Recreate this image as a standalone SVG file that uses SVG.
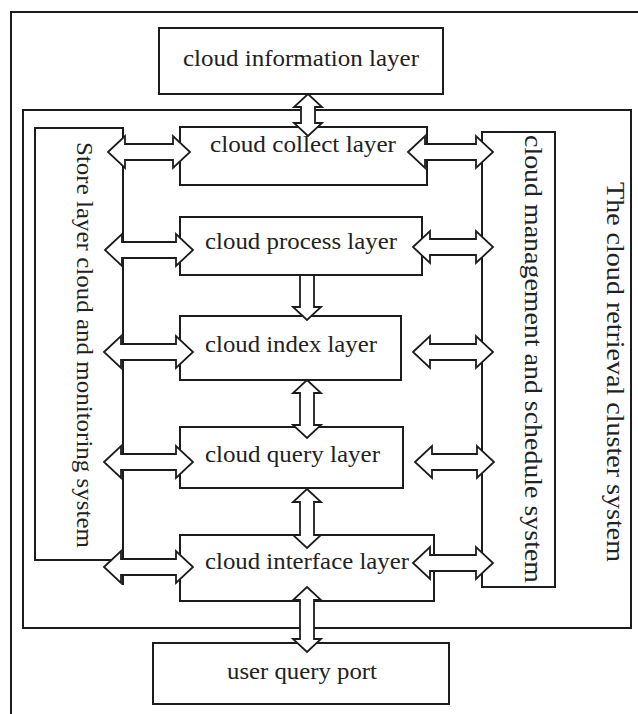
<svg xmlns="http://www.w3.org/2000/svg" width="638" height="714" viewBox="0 0 638 714">
<style>
.box{fill:#fff;stroke:#1c1c1c;stroke-width:2}
.ln{fill:none;stroke:#1c1c1c;stroke-width:2}
.arr{fill:#fff;stroke:#1c1c1c;stroke-width:1.8;stroke-linejoin:miter}
.t{font-family:"Liberation Serif","Times New Roman",serif;font-size:23px;fill:#222}
.v{font-family:"Liberation Serif","Times New Roman",serif;fill:#222}
</style>
<rect width="638" height="714" fill="#fff"/>
<g id="frame"><path class="ln" d="M11 714 V12 H638"/></g>
<g id="cluster">
<rect class="box" x="23" y="110" width="608" height="518"/>
<text class="v" font-size="26" transform="translate(607,182) rotate(90)" textLength="380" lengthAdjust="spacingAndGlyphs">The cloud retrieval cluster system</text>
</g>
<g id="info"><rect class="box" x="159" y="28" width="284" height="66"/>
<text class="t" x="183" y="66" textLength="236" lengthAdjust="spacingAndGlyphs">cloud information layer</text></g>
<g id="store"><rect class="box" x="35" y="128" width="88" height="432"/>
<text class="v" font-size="24" transform="translate(77,142) rotate(90)" textLength="406" lengthAdjust="spacingAndGlyphs">Store layer cloud and monitoring system</text></g>
<g id="mgmt"><rect class="box" x="482" y="132" width="73" height="455"/>
<text class="v" font-size="26" transform="translate(525,135) rotate(90)" textLength="448" lengthAdjust="spacingAndGlyphs">cloud management and schedule system</text></g>
<g id="collect"><rect class="box" x="180" y="127" width="247" height="58"/>
<text class="t" x="210" y="152" textLength="186" lengthAdjust="spacingAndGlyphs">cloud collect layer</text></g>
<g id="process"><rect class="box" x="180" y="217" width="242" height="58"/>
<text class="t" x="205" y="249" textLength="192" lengthAdjust="spacingAndGlyphs">cloud process layer</text></g>
<g id="index"><rect class="box" x="180" y="316" width="221" height="64"/>
<text class="t" x="205" y="352" textLength="172" lengthAdjust="spacingAndGlyphs">cloud index layer</text></g>
<g id="query"><rect class="box" x="180" y="427" width="223" height="61"/>
<text class="t" x="205" y="462" textLength="175" lengthAdjust="spacingAndGlyphs">cloud query layer</text></g>
<g id="interface"><rect class="box" x="180" y="535" width="254" height="66"/>
<text class="t" x="205" y="569" textLength="204" lengthAdjust="spacingAndGlyphs">cloud interface layer</text></g>
<g id="user"><rect class="box" x="153" y="643" width="296" height="61"/>
<text class="t" x="227" y="679" textLength="150" lengthAdjust="spacingAndGlyphs">user query port</text></g>
<g id="connectors">
<path class="ln" d="M123 128 V585"/>
<path class="arr" d="M108 152 L125 136 V144 H173 V136 L190 152 L173 168 V160 H125 V168 Z"/>
<path class="arr" d="M105 250 L122 234 V242 H176 V234 L193 250 L176 266 V258 H122 V266 Z"/>
<path class="arr" d="M104 352 L121 336 V344 H176 V336 L193 352 L176 368 V360 H121 V368 Z"/>
<path class="arr" d="M104 462 L121 446 V454 H176 V446 L193 462 L176 478 V470 H121 V478 Z"/>
<path class="arr" d="M104 567 L121 551 V559 H176 V551 L193 567 L176 583 V575 H121 V583 Z"/>
<path class="arr" d="M408 152 L425 136 V144 H476 V136 L493 152 L476 168 V160 H425 V168 Z"/>
<path class="arr" d="M413 247 L430 231 V239 H476 V231 L493 247 L476 263 V255 H430 V263 Z"/>
<path class="arr" d="M413 352 L430 336 V344 H476 V336 L493 352 L476 368 V360 H430 V368 Z"/>
<path class="arr" d="M415 462 L432 446 V454 H477 V446 L494 462 L477 478 V470 H432 V478 Z"/>
<path class="arr" d="M413 563 L430 547 V555 H476 V547 L493 563 L476 579 V571 H430 V579 Z"/>
<path class="arr" d="M308 94 L322 107 H315 V123 H322 L308 136 L294 123 H301 V107 H294 Z"/>
<path class="arr" d="M300 275 H314 V307 H321 L307 320 L293 307 H300 Z"/>
<path class="arr" d="M307 380 L321 393 H314 V425 H321 L307 438 L293 425 H300 V393 H293 Z"/>
<path class="arr" d="M307 489 L321 502 H314 V535 H321 L307 548 L293 535 H300 V502 H293 Z"/>
<path class="arr" d="M307 587 L321 600 H314 V639 H321 L307 652 L293 639 H300 V600 H293 Z"/>
</g>
</svg>
